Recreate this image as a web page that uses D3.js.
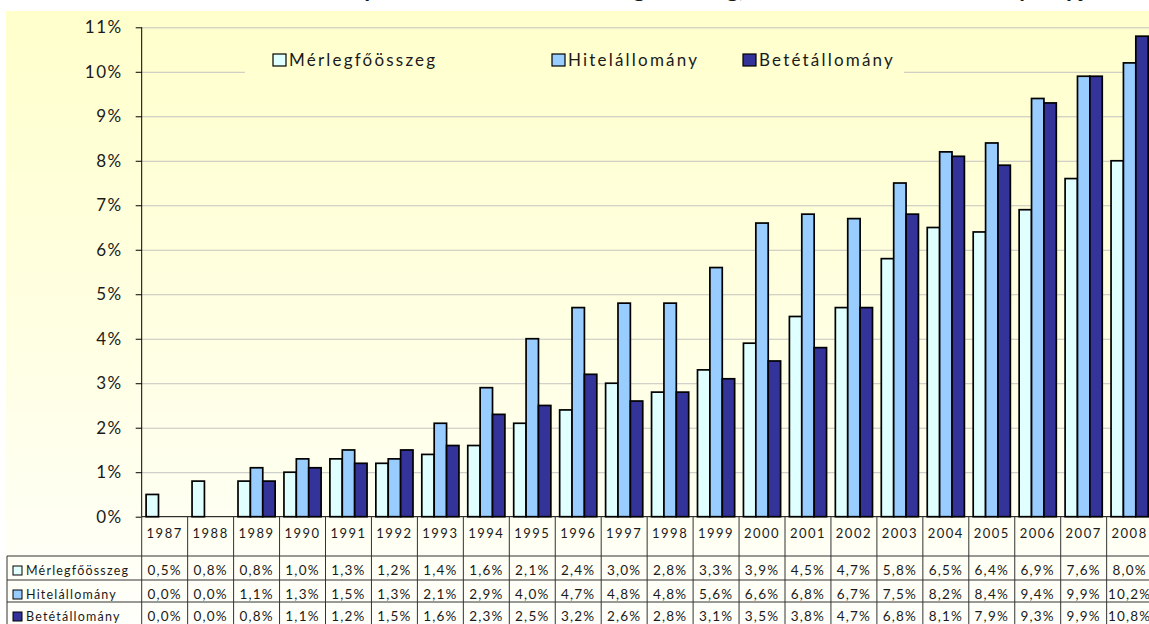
<!DOCTYPE html>
<html lang="hu">
<head>
    <meta charset="utf-8">
    <title>Piaci részesedés</title>
    <style>
        body { margin: 0; background: #ffffff; }
        svg { display: block; }
        text { font-family: 'Lato', 'DejaVu Sans', sans-serif; fill: #1a1a1a; }
    </style>
    <script src="https://cdn.jsdelivr.net/npm/d3@7" charset="utf-8"></script>
</head>
<body>
    <svg id="chart" width="1149" height="624"></svg>

    <script type="text/javascript">
    var years = ["1987","1988","1989","1990","1991","1992","1993","1994","1995","1996","1997",
                 "1998","1999","2000","2001","2002","2003","2004","2005","2006","2007","2008"];
    var seriesNames = ["Mérlegfőösszeg", "Hitelállomány", "Betétállomány"];
    var merleg = [0.5,0.8,0.8,1.0,1.3,1.2,1.4,1.6,2.1,2.4,3.0,2.8,3.3,3.9,4.5,4.7,5.8,6.5,6.4,6.9,7.6,8.0];
    var hitel  = [0.0,0.0,1.1,1.3,1.5,1.3,2.1,2.9,4.0,4.7,4.8,4.8,5.6,6.6,6.8,6.7,7.5,8.2,8.4,9.4,9.9,10.2];
    var betet  = [0.0,0.0,0.8,1.1,1.2,1.5,1.6,2.3,2.5,3.2,2.6,2.8,3.1,3.5,3.8,4.7,6.8,8.1,7.9,9.3,9.9,10.8];
    var yTicks = [0,1,2,3,4,5,6,7,8,9,10,11];
    var title = "A takarékszövetkezetek piaci részesedése a mérlegfőösszeg, a hitel- és a betétállomány alapján";

    var values = [merleg, hitel, betet];
    var colors = ["#e0ffff", "#99ccff", "#333399"];

    var W = 1149, H = 624;
    var left = 141.7, bandW = 45.95;
    var svg = d3.select("#chart");

    // background gradient
    var defs = svg.append("defs");
    var grad = defs.append("linearGradient")
      .attr("id", "bg").attr("gradientUnits", "userSpaceOnUse")
      .attr("x1", 0).attr("y1", 11).attr("x2", 0).attr("y2", 624);
    grad.append("stop").attr("offset", "0%").attr("stop-color", "#ffffcc");
    grad.append("stop").attr("offset", "55%").attr("stop-color", "#ffffe4");
    grad.append("stop").attr("offset", "100%").attr("stop-color", "#fffffb");

    // title (cut at top of picture)
    svg.append("text")
      .attr("x", 608).attr("y", -3)
      .attr("text-anchor", "middle")
      .style("font-size", "24px").style("font-weight", "bold")
      .text(title);

    svg.append("rect")
      .attr("x", 6).attr("y", 11).attr("width", W - 6).attr("height", H - 11)
      .attr("fill", "url(#bg)");

    var x = d3.scaleBand().domain(years).range([left, left + bandW * years.length]).paddingInner(0);
    var xs = d3.scaleBand().domain(seriesNames).range([4.4, bandW - 4.4]);
    var y = d3.scaleLinear().domain([0, 11]).range([516.7, 27.3]);

    // gridlines
    svg.append("g")
      .attr("transform", "translate(" + left + ",0)")
      .call(d3.axisLeft(y).tickValues(yTicks.slice(1)).tickSize(-(W - left)).tickFormat(""))
      .call(g => g.select(".domain").remove())
      .call(g => g.selectAll("line").attr("stroke", "#c4c4c0").attr("stroke-width", 1));

    // legend box covers gridlines
    svg.append("rect")
      .attr("x", 245).attr("y", 38).attr("width", 659).attr("height", 48)
      .attr("fill", "url(#bg)");

    // bars
    var groups = svg.append("g").selectAll("g")
      .data(years).join("g")
      .attr("transform", d => "translate(" + x(d) + ",0)");

    groups.selectAll("rect")
      .data((d, i) => seriesNames.map((s, k) => ({ s: s, v: values[k][i], k: k })).filter(e => e.v > 0))
      .join("rect")
      .attr("x", d => xs(d.s))
      .attr("width", xs.bandwidth())
      .attr("y", d => y(d.v))
      .attr("height", d => y(0) - y(d.v))
      .attr("fill", d => colors[d.k])
      .attr("stroke", "#000")
      .attr("stroke-width", 1.7);

    // y axis
    var yAxis = svg.append("g")
      .attr("transform", "translate(" + left + ",0)")
      .call(d3.axisLeft(y).tickValues(yTicks).tickSize(6).tickPadding(13).tickFormat(d => d + "%"));
    yAxis.select(".domain").attr("stroke", "#000").attr("d", "M0," + y(11) + "V" + y(0));
    yAxis.selectAll("line").attr("stroke", "#000");
    yAxis.selectAll("text")
      .style("font-size", "17px").style("letter-spacing", "1.5px")
      .style("font-family", "'Lato', sans-serif").attr("fill", "#1a1a1a");

    // x axis line
    svg.append("line")
      .attr("x1", left).attr("x2", W).attr("y1", y(0)).attr("y2", y(0))
      .attr("stroke", "#000").attr("stroke-width", 1);

    // legend
    var legendX = [273, 552, 743];
    var legend = svg.append("g").selectAll("g")
      .data(seriesNames).join("g")
      .attr("transform", (d, i) => "translate(" + legendX[i] + ",54)");
    legend.append("rect")
      .attr("width", 13).attr("height", 12)
      .attr("fill", (d, i) => colors[i]).attr("stroke", "#000").attr("stroke-width", 1.2);
    legend.append("text")
      .attr("x", 16).attr("y", 12)
      .style("font-size", "17px").style("letter-spacing", "2.2px")
      .text(d => d);

    // data table
    var rowY = [556, 580, 602, 624];
    var table = svg.append("g");
    table.selectAll("line.v")
      .data(d3.range(years.length + 1)).join("line")
      .attr("x1", i => left + i * bandW).attr("x2", i => left + i * bandW)
      .attr("y1", y(0)).attr("y2", H)
      .attr("stroke", "#333").attr("stroke-width", 1);
    table.append("line")
      .attr("x1", 7).attr("x2", 7).attr("y1", rowY[0]).attr("y2", H)
      .attr("stroke", "#333");
    table.selectAll("line.h")
      .data(rowY.slice(0, 3)).join("line")
      .attr("x1", 7).attr("x2", W).attr("y1", d => d).attr("y2", d => d)
      .attr("stroke", "#333");

    table.selectAll("text.year")
      .data(years).join("text")
      .attr("x", d => x(d) + bandW / 2).attr("y", 538)
      .attr("text-anchor", "middle")
      .style("font-size", "13px").style("letter-spacing", "1.5px")
      .text(d => d);

    var fmt = v => v.toFixed(1).replace(".", ",") + "%";
    seriesNames.forEach(function (s, k) {
      var base = rowY[k] + 19;
      table.append("rect")
        .attr("x", 13).attr("y", base - 9).attr("width", 9).attr("height", 9)
        .attr("fill", colors[k]).attr("stroke", "#000").attr("stroke-width", 1);
      table.append("text")
        .attr("x", 26).attr("y", base)
        .style("font-size", "12.5px").style("letter-spacing", "1.2px")
        .text(s);
      table.selectAll(null)
        .data(values[k]).join("text")
        .attr("x", (d, i) => x(years[i]) + bandW / 2).attr("y", base)
        .attr("text-anchor", "middle")
        .style("font-size", "13.5px").style("letter-spacing", "1.2px")
        .text(d => fmt(d));
    });
    </script>
</body>
</html>
